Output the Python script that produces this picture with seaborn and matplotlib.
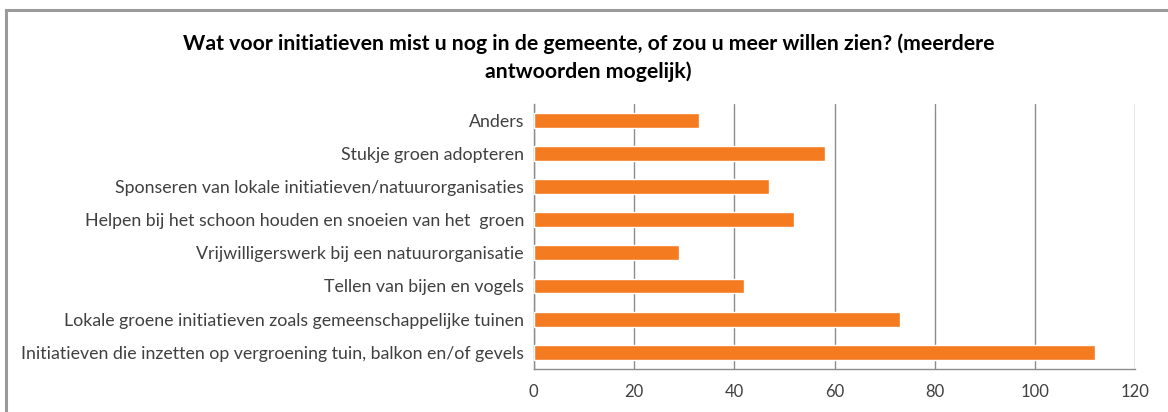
import numpy as np
import pandas as pd
import matplotlib
matplotlib.use("Agg")
import matplotlib.pyplot as plt
import seaborn as sns
from matplotlib.patches import Rectangle

# Survey answers (top to bottom as shown)
categories = [
    "Anders",
    "Stukje groen adopteren",
    "Sponseren van lokale initiatieven/natuurorganisaties",
    "Helpen bij het schoon houden en snoeien van het  groen",
    "Vrijwilligerswerk bij een natuurorganisatie",
    "Tellen van bijen en vogels",
    "Lokale groene initiatieven zoals gemeenschappelijke tuinen",
    "Initiatieven die inzetten op vergroening tuin, balkon en/of gevels",
]
counts = [33, 58, 47, 52, 29, 42, 73, 112]
x_ticks = [0, 20, 40, 60, 80, 100, 120]

title = ("Wat voor initiatieven mist u nog in de gemeente, of zou u meer willen zien? (meerdere\n"
         "antwoorden mogelijk)")

sns.set_style("white")
plt.rcParams['font.family'] = ['Lato', 'DejaVu Sans']

df = pd.DataFrame({"categorie": categories, "aantal": counts})

fig = plt.figure(figsize=(11.68, 4.12), dpi=100)
ax = fig.add_axes([0.457, 0.105, 0.515, 0.643])

sns.barplot(data=df, y="categorie", x="aantal", orient="h", color="#F47B20",
            saturation=1, width=0.45, ax=ax, zorder=3)

ax.set_xlim(0, 120)
ax.set_xticks(x_ticks)
ax.set_ylim(len(categories) - 0.5, -0.5)
ax.set_xlabel("")
ax.set_ylabel("")

# gridlines
ax.grid(axis="x", color="#8c8c8c", linewidth=1, zorder=0)
ax.grid(axis="y", visible=False)

for s in ["top", "right"]:
    ax.spines[s].set_visible(False)
for s in ["left", "bottom"]:
    ax.spines[s].set_color("#8c8c8c")
    ax.spines[s].set_linewidth(1)

# y ticks at category boundaries
ax.set_yticks(np.arange(len(categories) + 1) - 0.5, minor=True)
ax.tick_params(axis="y", which="minor", length=5, color="#8c8c8c", width=1, direction="out")
ax.tick_params(axis="y", which="major", length=0, pad=7, labelsize=12.8, labelcolor="#404040")
ax.tick_params(axis="x", which="major", length=5, color="#8c8c8c", width=1, direction="out",
               pad=6, labelsize=12, labelcolor="#404040")

fig.suptitle(title, x=0.504, y=0.92, fontsize=15.3, fontweight="bold", color="black",
             linespacing=1.45, va="top")

# chart frame (only top and left edges fall inside the picture)
fig.patches.append(Rectangle((6 / 1168, -1.0), 3.0, 2.0 - 10 / 412,
                             transform=fig.transFigure, fill=False,
                             edgecolor="#9a9a9a", linewidth=2.2))

fig.savefig("out.png", dpi=100, facecolor="white")
